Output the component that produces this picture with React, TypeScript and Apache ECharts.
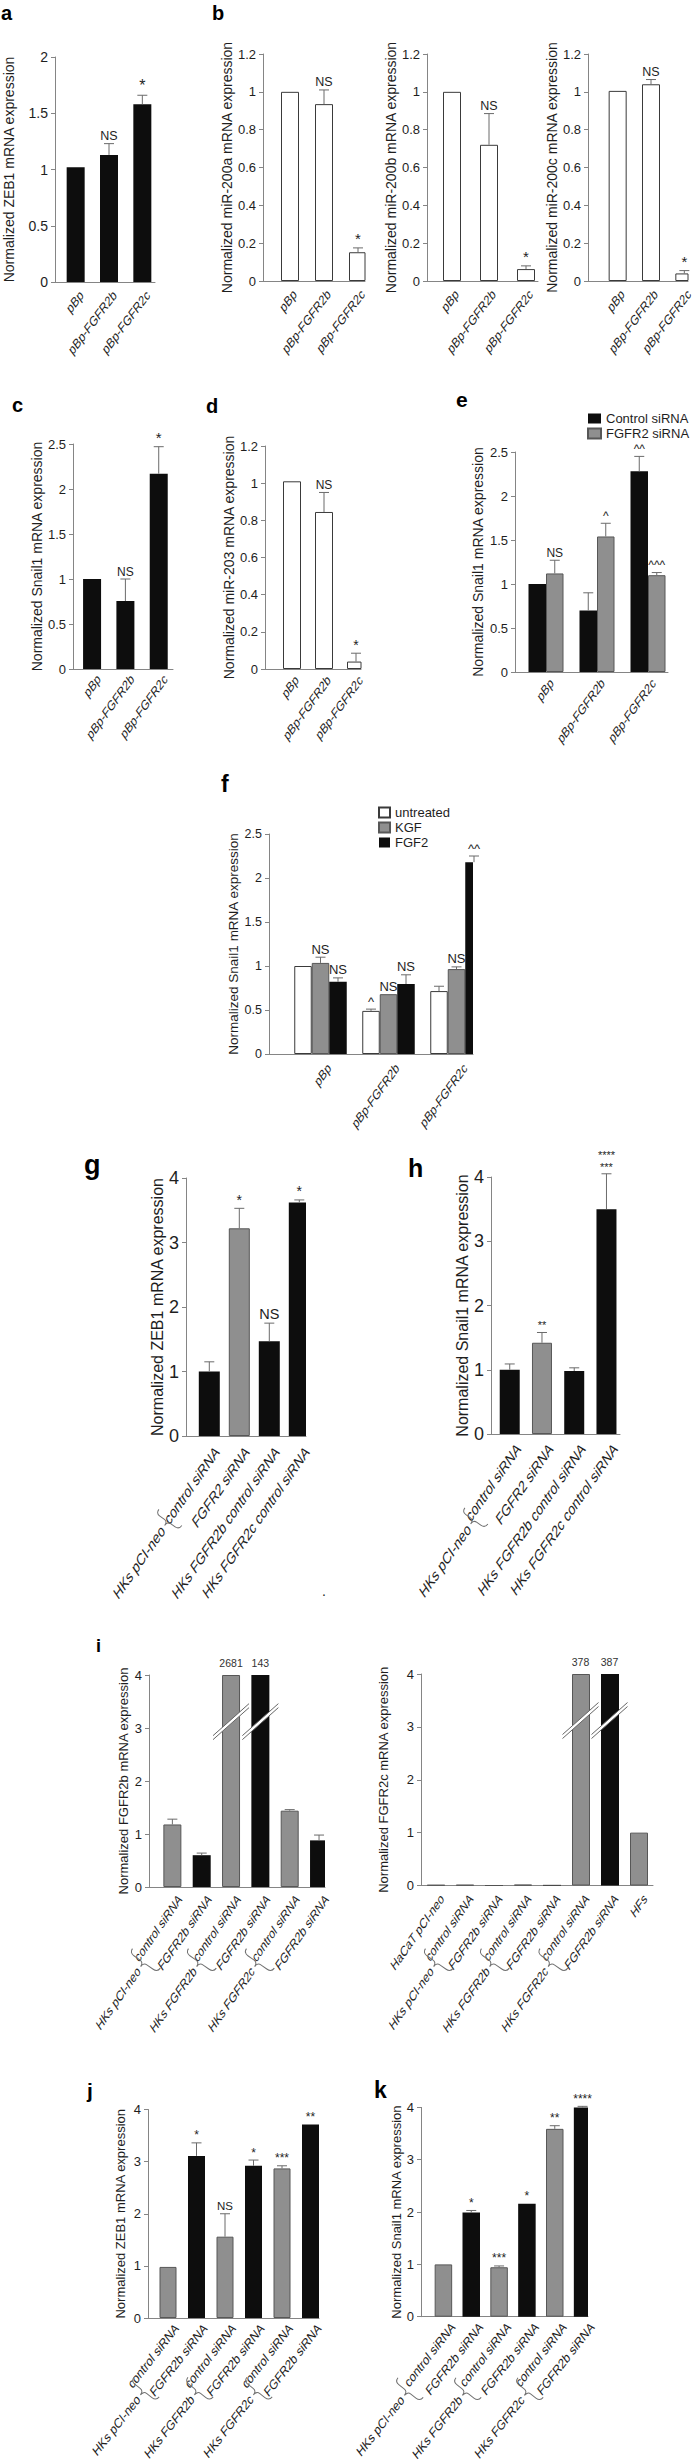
import React, { useEffect, useRef } from 'react';
import * as echarts from 'echarts';

const FONT = "'Liberation Sans', Arial, Helvetica, sans-serif";
const BLACK = '#0d0d0d';
const GRAY = '#8f8f8f';
const GRAY_EDGE = '#575757';
const WHITE_EDGE = '#3a3a3a';
const AXIS = '#858585';
const ERR = '#6b6b6b';
const TXT = '#1e1e1e';

// ---------------- data ----------------
const pBpCats = ['pBp', 'pBp-FGFR2b', 'pBp-FGFR2c'];

const aZeb1 = [1.02, 1.13, 1.58];
const aZeb1Err = [null, 1.23, 1.66];
const aSig = ['', 'NS', '*'];

const bMiR200a = [1.0, 0.935, 0.152];
const bMiR200aErr = [null, 1.01, 0.175];
const bMiR200b = [1.0, 0.72, 0.063];
const bMiR200bErr = [null, 0.885, 0.08];
const bMiR200c = [1.005, 1.04, 0.04];
const bMiR200cErr = [null, 1.065, 0.055];
const bSig = ['', 'NS', '*'];

const cSnail1 = [1.0, 0.755, 2.17];
const cSnail1Err = [null, 1.0, 2.47];
const cSig = ['', 'NS', '*'];

const dMiR203 = [1.01, 0.845, 0.04];
const dMiR203Err = [null, 0.95, 0.085];
const dSig = ['', 'NS', '*'];

const eControl = [1.0, 0.7, 2.28];
const eControlErr = [null, 0.9, 2.45];
const eControlSig = ['', '', '^^'];
const eFgfr2 = [1.12, 1.54, 1.1];
const eFgfr2Err = [1.27, 1.69, 1.13];
const eFgfr2Sig = ['NS', '^', '^^^'];

const fUntreated = [1.0, 0.49, 0.715];
const fUntreatedErr = [null, 0.51, 0.77];
const fUntreatedSig = ['', '^', ''];
const fKgf = [1.035, 0.68, 0.965];
const fKgfErr = [1.1, null, 0.99];
const fKgfSig = ['NS', 'NS', 'NS'];
const fFgf2 = [0.82, 0.795, 2.18];
const fFgf2Err = [0.865, 0.9, 2.25];
const fFgf2Sig = ['NS', 'NS', '^^'];

const ghCats = ['control siRNA', 'FGFR2 siRNA', 'HKs FGFR2b control siRNA', 'HKs FGFR2c control siRNA'];
const ghColors = ['k', 'g', 'k', 'k'];
const gZeb1 = [1.0, 3.22, 1.47, 3.62];
const gZeb1Err = [1.15, 3.53, 1.75, 3.66];
const gSig = ['', '*', 'NS', '*'];
const hSnail1 = [1.0, 1.42, 0.98, 3.5];
const hSnail1Err = [1.09, 1.58, 1.03, 4.05];
const hSig = ['', '**', '', '****\n***'];

const pairCats = ['control siRNA', 'FGFR2b siRNA', 'control siRNA', 'FGFR2b siRNA', 'control siRNA', 'FGFR2b siRNA'];
const pairColors = ['g', 'k', 'g', 'k', 'g', 'k'];
const groupNames = ['HKs pCI-neo', 'HKs FGFR2b', 'HKs FGFR2c'];

const iFgfr2b = [1.18, 0.6, 2681, 143, 1.44, 0.88];
const iFgfr2bErr = [1.28, 0.64, null, null, 1.46, 0.98];
const iRightCats = ['HaCaT pCI-neo', ...pairCats, 'HFs'];
const iRightColors = ['g', ...pairColors, 'g'];
const iFgfr2c = [0.01, 0.012, 0.008, 0.015, 0.012, 378, 387, 1.0];
const iFgfr2cErr = [null, null, null, null, null, null, null, null];

const jZeb1 = [0.98, 3.11, 1.56, 2.92, 2.87, 3.71];
const jZeb1Err = [null, 3.36, 2.0, 3.03, 2.92, null];
const jSig = ['', '*', 'NS', '*', '***', '**'];

const kSnail1 = [1.0, 1.99, 0.945, 2.16, 3.59, 4.0];
const kSnail1Err = [null, 2.03, 0.97, null, 3.65, 4.02];
const kSig = ['', '*', '***', '*', '**', '****'];

// ---------------- layout ----------------
const BASE = { lblSize: 12.5, lblRot: 53, sigSize: 12.5, starSize: 15, cap: 5, valueSize: 10.5, nameSize: 14, tickSize: 13 };
const LA = { ...BASE, left: 55, top: 57, bottom: 282, width: 100, shift: 4, max: 2, interval: 0.5, bw: 18, yName: 'Normalized ZEB1 mRNA expression', nameX: 9, tickSize: 14, lblDx: 6, lblDy: 11, starSize: 16 };
const LB1 = { ...BASE, left: 263, top: 54, bottom: 281, width: 102, shift: 10, max: 1.2, interval: 0.2, bw: 18, yName: 'Normalized miR-200a mRNA expression', nameX: 227, lblDx: 5, lblDy: 11 };
const LB2 = { ...LB1, left: 427, width: 111, shift: 6.5, yName: 'Normalized miR-200b mRNA expression', nameX: 393 };
const LB3 = { ...LB1, left: 588, width: 100, shift: 13, yName: 'Normalized miR-200c mRNA expression', nameX: 556 };
const LC = { ...BASE, left: 73, top: 444, bottom: 669, width: 100, shift: 2.4, max: 2.5, interval: 0.5, bw: 18, yName: 'Normalized Snail1 mRNA expression', nameX: 38, lblDx: 7, lblDy: 8, sigSize: 12, lblRot: 54 };
const LD = { ...BASE, left: 265, top: 446, bottom: 669, width: 96, shift: 11, max: 1.2, interval: 0.2, bw: 18, yName: 'Normalized miR-203 mRNA expression', nameX: 233, lblDx: 5, lblDy: 9, sigSize: 12, starSize: 14, lblRot: 54 };
const LE = { ...BASE, left: 515, top: 452, bottom: 672, width: 153, shift: 5.5, max: 2.5, interval: 0.5, bw: 17.5, yName: 'Normalized Snail1 mRNA expression', nameX: 478, lblDx: 6, lblDy: 9, sigSize: 12, lblRot: 54 };
const LF = { ...BASE, left: 269, top: 834, bottom: 1054, width: 204, shift: 17.5, max: 2.5, interval: 0.5, bw: 17.5, yName: 'Normalized Snail1 mRNA expression', nameX: 235, nameSize: 13.5, tickSize: 12.5, lblDx: 9, lblDy: 12, sigSize: 13, lblRot: 54 };
const LG = { ...BASE, left: 186, top: 1178, bottom: 1436, width: 120, shift: 8.3, max: 4, interval: 1, bw: 21, yName: 'Normalized ZEB1 mRNA expression', nameX: 159, nameSize: 16, tickSize: 18, lblSize: 14.5, lblRot: 55, lblDx: 8, lblDy: 13, sigSize: 14.5, starSize: 14 };
const LH = { ...LG, left: 491, top: 1177, bottom: 1434, width: 129, shift: 2.6, bw: 20, yName: 'Normalized Snail1 mRNA expression', nameX: 466, lblDx: 9, lblDy: 12, starSize: 11 };
const LIL = { ...BASE, left: 149, top: 1675, bottom: 1887, width: 176, shift: 8.7, max: 4, interval: 1, bw: 18, yName: 'Normalized FGFR2b mRNA expression', nameX: 123, nameSize: 13, tickSize: 13, lblRot: 55, lblDx: 8, lblDy: 10, sigSize: 11, starSize: 12, breakAt: 3.12 };
const LIR = { ...LIL, left: 421, top: 1674, bottom: 1885.5, width: 232, shift: 0, yName: 'Normalized FGFR2c mRNA expression', nameX: 383, lblDx: 7, lblDy: 11 };
const LJ = { ...BASE, left: 148, top: 2109.5, bottom: 2318, width: 171, shift: 5.75, max: 4, interval: 1, bw: 17, yName: 'Normalized ZEB1 mRNA expression', nameX: 120, nameSize: 13, tickSize: 13, lblRot: 52, lblDx: 9, lblDy: 8, sigSize: 11.5, starSize: 12, cap: 5 };
const LK = { ...LJ, left: 421, top: 2107.4, bottom: 2316.7, width: 167, shift: 8.5, bw: 17.5, yName: 'Normalized Snail1 mRNA expression', nameX: 396, lblDx: 10, lblDy: 8 };

const BRACE_D = 'M5,-15 Q0,-15 0,-10 L0,-4 Q0,0 -5,0 Q0,0 0,4 L0,10 Q0,15 5,15';
echarts.graphic.registerShape('brace', echarts.graphic.extendPath(BRACE_D, {}));

function barStyle(key?: string) {
  if (key === 'g') return { color: GRAY, borderColor: GRAY_EDGE, borderWidth: 1 };
  if (key === 'w') return { color: '#ffffff', borderColor: WHITE_EDGE, borderWidth: 1 };
  return { color: BLACK, borderColor: BLACK, borderWidth: 0 };
}

function txt(text: string, x: number, y: number, size: number, o: any = {}) {
  const align = o.align || 'center';
  const va = o.va || 'bottom';
  const style: any = {
    text, fontSize: size, fontFamily: FONT,
    fontStyle: o.italic ? 'italic' : 'normal',
    fontWeight: o.bold ? 'bold' : 'normal',
    fill: o.fill || TXT,
    align, verticalAlign: va, textAlign: align, textVerticalAlign: va,
  };
  if (o.lineHeight) style.lineHeight = o.lineHeight;
  return { type: 'text', x, y, rotation: o.rotation || 0, silent: true, z: 20, style };
}

// a 45-degree label stretched vertically, as in the (vertically stretched) figure
function slantLabel(text: string, x: number, y: number, size: number, rotDeg: number) {
  const k = Math.tan((rotDeg * Math.PI) / 180);
  const f = Math.sqrt(0.5 + 0.5 * k * k);
  return {
    type: 'group', x, y, scaleY: k, silent: true, z: 20,
    children: [txt(text, 0, 0, size / f, { align: 'right', va: 'middle', rotation: Math.PI / 4 })],
  };
}

type BarSet = { name?: string; values: number[]; err: (number | null)[]; sig?: string[]; color?: string; colors?: string[] };

function addPanel(opt: any, L: any, cats: string[], sets: BarSet[]) {
  const gi = opt.grid.length;
  opt.grid.push({ left: L.left, top: L.top, width: L.width, height: L.bottom - L.top, containLabel: false });
  opt.xAxis.push({
    type: 'category', gridIndex: gi, data: cats, boundaryGap: true,
    axisLine: { show: true, onZero: false, lineStyle: { color: AXIS, width: 1 } },
    axisTick: { show: false }, axisLabel: { show: false }, splitLine: { show: false },
  });
  opt.yAxis.push({
    type: 'value', gridIndex: gi, min: 0, max: L.max, interval: L.interval,
    axisLine: { show: true, lineStyle: { color: AXIS, width: 1 } },
    axisTick: { show: true, inside: false, length: 4, lineStyle: { color: AXIS, width: 1 } },
    axisLabel: { show: true, fontSize: L.tickSize, fontFamily: FONT, color: TXT, margin: 7 },
    splitLine: { show: false },
    name: L.yName, nameLocation: 'middle', nameGap: L.left - L.nameX - L.nameSize / 2,
    nameTextStyle: { fontSize: L.nameSize, fontFamily: FONT, color: TXT },
  });
  // invisible spacer series: moves the real bars right by L.shift inside each category
  opt.series.push({
    type: 'bar', xAxisIndex: gi, yAxisIndex: gi, barWidth: Math.max(2 * L.shift, 0.01), barGap: '0%',
    silent: true, data: cats.map(() => '-'), itemStyle: { color: 'rgba(0,0,0,0)' },
  });
  const m = sets.length;
  sets.forEach((s) => {
    const ser: any = {
      type: 'bar', xAxisIndex: gi, yAxisIndex: gi, barWidth: L.bw, barGap: '0%', silent: true, z: 2,
      itemStyle: barStyle(s.color),
      data: s.values.map((v, i) => ({ value: Math.min(v, L.max), itemStyle: barStyle(s.colors ? s.colors[i] : s.color) })),
    };
    if (s.name) ser.name = s.name;
    opt.series.push(ser);
  });
  sets.forEach((s, j) => {
    const dx = L.shift + (j - (m - 1) / 2) * L.bw;
    opt.series.push({
      type: 'custom', xAxisIndex: gi, yAxisIndex: gi, clip: false, silent: true, z: 5,
      encode: { x: 0, y: 1 },
      data: s.values.map((v, i) => [i, Math.min(v, L.max)]),
      renderItem: (params: any, api: any) => {
        const i = params.dataIndex;
        const v = s.values[i];
        const shown = Math.min(v, L.max);
        const p = api.coord([i, shown]);
        const x = p[0] + dx;
        const yTop = p[1];
        const children: any[] = [];
        let yRef = yTop;
        const e = s.err[i];
        const ls = { stroke: ERR, lineWidth: 1 };
        if (e != null) {
          const ye = api.coord([i, e])[1];
          children.push({ type: 'line', shape: { x1: x, y1: yTop, x2: x, y2: ye }, style: ls });
          children.push({ type: 'line', shape: { x1: x - L.cap, y1: ye, x2: x + L.cap, y2: ye }, style: ls });
          yRef = ye;
        }
        if (v > L.max) {
          children.push(txt(String(v), x, yTop - 12, L.valueSize, { align: 'center', va: 'middle', fill: '#333' }));
          const yb = api.coord([i, L.breakAt])[1];
          children.push({ type: 'polygon', shape: { points: [[x - 18, yb + 14], [x + 18, yb - 18], [x + 18, yb - 14], [x - 18, yb + 18]] }, style: { fill: '#ffffff' } });
          children.push({ type: 'line', shape: { x1: x - 18, y1: yb + 14, x2: x + 18, y2: yb - 18 }, style: { stroke: '#666', lineWidth: 1 } });
          children.push({ type: 'line', shape: { x1: x - 18, y1: yb + 18, x2: x + 18, y2: yb - 14 }, style: { stroke: '#666', lineWidth: 1 } });
        }
        const sig = s.sig ? s.sig[i] : '';
        if (sig) {
          const isStar = /^[*\n]+$/.test(sig);
          const lines = sig.split('\n');
          const size = isStar ? L.starSize : L.sigSize;
          const step = Math.ceil(size * 1.05);
          lines.forEach((ln, li) => {
            const off = (lines.length - 1 - li) * step;
            children.push(txt(ln, x, yRef - 1.5 - off, size, { align: 'center', va: 'bottom' }));
          });
        }
        return { type: 'group', children };
      },
    });
  });
  // category labels under the axis
  opt.series.push({
    type: 'custom', xAxisIndex: gi, yAxisIndex: gi, clip: false, silent: true, z: 5,
    encode: { x: 0, y: 1 },
    data: cats.map((_, i) => [i, 0]),
    renderItem: (params: any, api: any) => {
      const i = params.dataIndex;
      const p = api.coord([i, 0]);
      return slantLabel(cats[i], p[0] + L.shift + L.lblDx, p[1] + L.lblDy, L.lblSize, L.lblRot);
    },
  });
}

function groupMarks(list: any[], names: string[], centers: number[], y: number, rotDeg: number, len: number, size: number) {
  const th = (rotDeg * Math.PI) / 180;
  centers.forEach((cx, idx) => {
    list.push({ type: 'brace', x: cx, y, rotation: th, scaleY: len / 30, silent: true, z: 20, style: { stroke: '#707070', fill: 'none', lineWidth: 1, strokeNoScale: true } });
    const g = 8;
    list.push(slantLabel(names[idx], cx - g * Math.cos(th), y + g * Math.sin(th), size, rotDeg));
  });
}

function buildOption() {
  const opt: any = { animation: false, textStyle: { fontFamily: FONT }, grid: [], xAxis: [], yAxis: [], series: [] };

  addPanel(opt, LA, pBpCats, [{ values: aZeb1, err: aZeb1Err, sig: aSig, color: 'k' }]);
  addPanel(opt, LB1, pBpCats, [{ values: bMiR200a, err: bMiR200aErr, sig: bSig, color: 'w' }]);
  addPanel(opt, LB2, pBpCats, [{ values: bMiR200b, err: bMiR200bErr, sig: bSig, color: 'w' }]);
  addPanel(opt, LB3, pBpCats, [{ values: bMiR200c, err: bMiR200cErr, sig: bSig, color: 'w' }]);
  addPanel(opt, LC, pBpCats, [{ values: cSnail1, err: cSnail1Err, sig: cSig, color: 'k' }]);
  addPanel(opt, LD, pBpCats, [{ values: dMiR203, err: dMiR203Err, sig: dSig, color: 'w' }]);
  addPanel(opt, LE, pBpCats, [
    { name: 'Control siRNA', values: eControl, err: eControlErr, sig: eControlSig, color: 'k' },
    { name: 'FGFR2 siRNA', values: eFgfr2, err: eFgfr2Err, sig: eFgfr2Sig, color: 'g' },
  ]);
  addPanel(opt, LF, pBpCats, [
    { name: 'untreated', values: fUntreated, err: fUntreatedErr, sig: fUntreatedSig, color: 'w' },
    { name: 'KGF', values: fKgf, err: fKgfErr, sig: fKgfSig, color: 'g' },
    { name: 'FGF2', values: fFgf2, err: fFgf2Err, sig: fFgf2Sig, color: 'k' },
  ]);
  addPanel(opt, LG, ghCats, [{ values: gZeb1, err: gZeb1Err, sig: gSig, colors: ghColors }]);
  addPanel(opt, LH, ghCats, [{ values: hSnail1, err: hSnail1Err, sig: hSig, colors: ghColors }]);
  addPanel(opt, LIL, pairCats, [{ values: iFgfr2b, err: iFgfr2bErr, colors: pairColors }]);
  addPanel(opt, LIR, iRightCats, [{ values: iFgfr2c, err: iFgfr2cErr, colors: iRightColors }]);
  addPanel(opt, LJ, pairCats, [{ values: jZeb1, err: jZeb1Err, sig: jSig, colors: pairColors }]);
  addPanel(opt, LK, pairCats, [{ values: kSnail1, err: kSnail1Err, sig: kSig, colors: pairColors }]);

  const legendText = { fontSize: 13, fontFamily: FONT, color: TXT };
  opt.legend = [
    { left: 587, top: 412, orient: 'vertical', padding: 0, itemWidth: 13, itemHeight: 10, itemGap: 2, icon: 'rect', selectedMode: false, data: ['Control siRNA', 'FGFR2 siRNA'], textStyle: legendText },
    { left: 378, top: 806, orient: 'vertical', padding: 0, itemWidth: 11, itemHeight: 10, itemGap: 2, icon: 'rect', selectedMode: false, data: ['untreated', 'KGF', 'FGF2'], textStyle: legendText },
  ];

  const els: any[] = [];
  const letters: [string, number, number, number][] = [
    ['a', 1, 20, 20], ['b', 212, 20, 20], ['c', 12, 412, 20], ['d', 206, 413, 20], ['e', 456, 407, 21],
    ['f', 221, 792, 23], ['g', 84, 1174, 27], ['h', 408, 1177, 25], ['i', 96, 1652, 18], ['j', 87, 2097.6, 21], ['k', 374, 2098, 23],
  ];
  letters.forEach(([t, x, base, fs]) => els.push(txt(t, x, base - 0.35 * fs, fs, { align: 'left', va: 'middle', bold: true, fill: '#000' })));

  groupMarks(els, groupNames.slice(0, 1), [167.5], 1521.5, 55, 28, 14.5);
  groupMarks(els, groupNames.slice(0, 1), [473.5], 1520, 55, 28, 14.5);
  groupMarks(els, groupNames, [143.5, 199.5, 257.5], 1962.5, 55, 34, 12.5);
  groupMarks(els, groupNames, [436.5, 492.5, 551], 1962.5, 55, 34, 12.5);
  groupMarks(els, groupNames, [143.5, 197.5, 256.5], 2391, 52, 32, 12.5);
  groupMarks(els, groupNames, [407.5, 465.5, 527.5], 2391.5, 52, 32, 12.5);
  els.push(txt('.', 322, 1598, 14, { align: 'left', va: 'bottom' }));

  opt.graphic = { elements: els };
  return opt;
}

export default function App() {
  const ref = useRef<HTMLDivElement>(null);
  useEffect(() => {
    if (!ref.current) return;
    const chart = echarts.init(ref.current, null, { renderer: 'svg' });
    chart.setOption(buildOption());
    return () => chart.dispose();
  }, []);
  return <div ref={ref} style={{ position: 'absolute', left: 0, top: 0, width: 700, height: 2463, background: '#ffffff' }} />;
}
